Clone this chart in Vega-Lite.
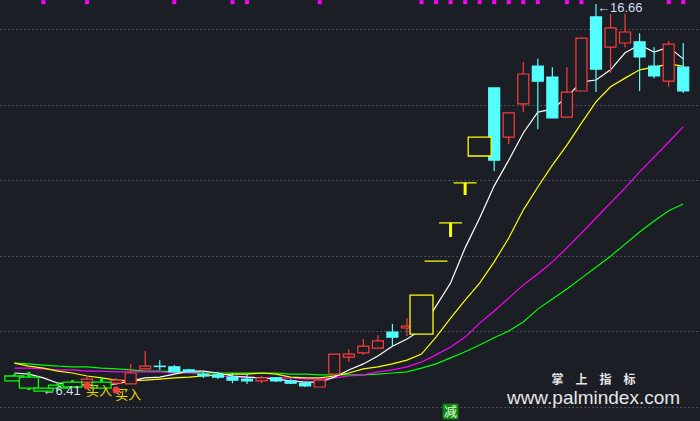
{
  "$schema": "https://vega.github.io/schema/vega-lite/v6.json",
  "width": 700,
  "height": 421,
  "autosize": {"type": "fit", "contains": "padding"},
  "padding": 0,
  "background": "#1b1e25",
  "config": {
    "view": {"stroke": null},
    "axisY": {"grid": true, "labels": false, "ticks": false, "domain": false, "title": null, "gridColor": "#59606c", "gridDash": [1.5, 2.5], "gridWidth": 1, "gridOpacity": 1}
  },
  "datasets": {
    "k": [
      {"i":0,"kind":"weak","o":6.82,"h":6.87,"l":6.69,"c":6.69,"ma5":6.90,"ma10":7.16,"ma20":7.03,"ma60":7.16},
      {"i":1,"kind":"weak","o":6.79,"h":6.93,"l":6.45,"c":6.50,"ma5":6.87,"ma10":7.08,"ma20":7.03,"ma60":7.14},
      {"i":2,"kind":"weak","o":6.50,"h":6.50,"l":6.41,"c":6.42,"ma5":6.77,"ma10":7.03,"ma20":7.01,"ma60":7.11},
      {"i":3,"kind":"weak","o":6.58,"h":6.63,"l":6.50,"c":6.50,"ma5":6.63,"ma10":6.95,"ma20":6.98,"ma60":7.08},
      {"i":4,"kind":"weak","o":6.66,"h":6.71,"l":6.53,"c":6.53,"ma5":6.61,"ma10":6.90,"ma20":6.98,"ma60":7.06},
      {"i":5,"kind":"up","o":6.66,"h":6.82,"l":6.66,"c":6.74,"ma5":6.58,"ma10":6.82,"ma20":6.95,"ma60":7.06},
      {"i":6,"kind":"weak","o":6.66,"h":6.77,"l":6.50,"c":6.50,"ma5":6.58,"ma10":6.77,"ma20":6.95,"ma60":7.03},
      {"i":7,"kind":"up","o":6.63,"h":6.77,"l":6.58,"c":6.71,"ma5":6.61,"ma10":6.71,"ma20":6.93,"ma60":7.01},
      {"i":8,"kind":"up","o":6.61,"h":7.14,"l":6.61,"c":6.90,"ma5":6.69,"ma10":6.69,"ma20":6.93,"ma60":6.98},
      {"i":9,"kind":"up","o":7.01,"h":7.48,"l":7.01,"c":7.08,"ma5":6.77,"ma10":6.71,"ma20":6.93,"ma60":6.95},
      {"i":10,"kind":"down","o":7.08,"h":7.24,"l":6.98,"c":7.07,"ma5":6.79,"ma10":6.74,"ma20":6.93,"ma60":6.95},
      {"i":11,"kind":"down","o":7.06,"h":7.11,"l":6.93,"c":6.93,"ma5":6.87,"ma10":6.77,"ma20":6.90,"ma60":6.93},
      {"i":12,"kind":"down","o":6.98,"h":7.01,"l":6.90,"c":6.93,"ma5":6.95,"ma10":6.79,"ma20":6.90,"ma60":6.93},
      {"i":13,"kind":"down","o":6.87,"h":6.93,"l":6.77,"c":6.82,"ma5":6.95,"ma10":6.82,"ma20":6.87,"ma60":6.90},
      {"i":14,"kind":"down","o":6.85,"h":6.93,"l":6.74,"c":6.79,"ma5":6.90,"ma10":6.85,"ma20":6.82,"ma60":6.90},
      {"i":15,"kind":"down","o":6.79,"h":6.90,"l":6.63,"c":6.71,"ma5":6.82,"ma10":6.87,"ma20":6.79,"ma60":6.90},
      {"i":16,"kind":"down","o":6.74,"h":6.87,"l":6.61,"c":6.69,"ma5":6.79,"ma10":6.87,"ma20":6.79,"ma60":6.90},
      {"i":17,"kind":"up","o":6.69,"h":6.82,"l":6.63,"c":6.77,"ma5":6.77,"ma10":6.90,"ma20":6.77,"ma60":6.90},
      {"i":18,"kind":"down","o":6.77,"h":6.79,"l":6.66,"c":6.69,"ma5":6.74,"ma10":6.87,"ma20":6.77,"ma60":6.90},
      {"i":19,"kind":"down","o":6.69,"h":6.74,"l":6.61,"c":6.63,"ma5":6.69,"ma10":6.79,"ma20":6.77,"ma60":6.87},
      {"i":20,"kind":"down","o":6.63,"h":6.66,"l":6.53,"c":6.56,"ma5":6.66,"ma10":6.77,"ma20":6.74,"ma60":6.87},
      {"i":21,"kind":"up","o":6.53,"h":6.71,"l":6.53,"c":6.71,"ma5":6.66,"ma10":6.77,"ma20":6.74,"ma60":6.85},
      {"i":22,"kind":"up","o":6.87,"h":7.40,"l":6.87,"c":7.40,"ma5":6.79,"ma10":6.82,"ma20":6.77,"ma60":6.85},
      {"i":23,"kind":"up","o":7.32,"h":7.53,"l":7.19,"c":7.40,"ma5":6.98,"ma10":6.90,"ma20":6.82,"ma60":6.85},
      {"i":24,"kind":"up","o":7.43,"h":7.80,"l":7.38,"c":7.61,"ma5":7.14,"ma10":7.01,"ma20":6.85,"ma60":6.85},
      {"i":25,"kind":"up","o":7.56,"h":7.90,"l":7.56,"c":7.75,"ma5":7.35,"ma10":7.06,"ma20":6.93,"ma60":6.87},
      {"i":26,"kind":"down","o":7.98,"h":8.20,"l":7.59,"c":7.85,"ma5":7.61,"ma10":7.14,"ma20":6.98,"ma60":6.90},
      {"i":27,"kind":"up","o":8.09,"h":8.35,"l":7.88,"c":8.14,"ma5":7.80,"ma10":7.24,"ma20":7.06,"ma60":6.93},
      {"i":28,"kind":"limit","o":7.93,"h":8.96,"l":7.93,"c":8.96,"ma5":8.04,"ma10":7.40,"ma20":7.19,"ma60":7.03},
      {"i":29,"kind":"limit","o":9.86,"h":9.86,"l":9.86,"c":9.86,"ma5":8.67,"ma10":7.85,"ma20":7.38,"ma60":7.14},
      {"i":30,"kind":"limit","o":10.87,"h":10.87,"l":10.50,"c":10.87,"ma5":9.28,"ma10":8.35,"ma20":7.59,"ma60":7.30},
      {"i":31,"kind":"limit","o":11.93,"h":11.93,"l":11.61,"c":11.93,"ma5":10.21,"ma10":8.83,"ma20":7.85,"ma60":7.46},
      {"i":32,"kind":"limit","o":12.64,"h":13.14,"l":12.64,"c":13.14,"ma5":11.00,"ma10":9.28,"ma20":8.22,"ma60":7.64},
      {"i":33,"kind":"down","o":14.44,"h":14.44,"l":12.24,"c":12.53,"ma5":11.85,"ma10":9.84,"ma20":8.54,"ma60":7.83},
      {"i":34,"kind":"up","o":13.14,"h":13.78,"l":12.96,"c":13.78,"ma5":12.53,"ma10":10.47,"ma20":8.88,"ma60":8.01},
      {"i":35,"kind":"up","o":14.02,"h":15.13,"l":13.80,"c":14.81,"ma5":13.25,"ma10":11.21,"ma20":9.23,"ma60":8.25},
      {"i":36,"kind":"down","o":15.02,"h":15.21,"l":13.35,"c":14.62,"ma5":13.80,"ma10":11.82,"ma20":9.52,"ma60":8.59},
      {"i":37,"kind":"down","o":14.73,"h":14.99,"l":13.65,"c":13.65,"ma5":13.88,"ma10":12.40,"ma20":9.84,"ma60":8.86},
      {"i":38,"kind":"up","o":13.67,"h":14.99,"l":13.67,"c":14.33,"ma5":14.20,"ma10":12.93,"ma20":10.21,"ma60":9.12},
      {"i":39,"kind":"up","o":14.36,"h":15.76,"l":14.36,"c":15.76,"ma5":14.60,"ma10":13.51,"ma20":10.60,"ma60":9.41},
      {"i":40,"kind":"down","o":16.32,"h":16.66,"l":14.33,"c":14.94,"ma5":14.65,"ma10":14.07,"ma20":11.00,"ma60":9.70},
      {"i":41,"kind":"up","o":15.52,"h":16.40,"l":14.84,"c":16.03,"ma5":14.92,"ma10":14.47,"ma20":11.40,"ma60":9.99},
      {"i":42,"kind":"up","o":15.63,"h":16.40,"l":15.52,"c":15.92,"ma5":15.37,"ma10":14.70,"ma20":11.79,"ma60":10.31},
      {"i":43,"kind":"down","o":15.66,"h":15.89,"l":14.36,"c":15.26,"ma5":15.58,"ma10":14.92,"ma20":12.22,"ma60":10.63},
      {"i":44,"kind":"down","o":15.02,"h":15.52,"l":14.70,"c":14.76,"ma5":15.39,"ma10":14.99,"ma20":12.61,"ma60":10.92},
      {"i":45,"kind":"up","o":14.62,"h":15.68,"l":14.47,"c":15.60,"ma5":15.52,"ma10":15.07,"ma20":13.01,"ma60":11.19},
      {"i":46,"kind":"down","o":14.99,"h":15.63,"l":14.31,"c":14.36,"ma5":15.21,"ma10":15.02,"ma20":13.41,"ma60":11.37}
    ],
    "top": [
      {"i":2,"p":16.71},{"i":5,"p":16.71},{"i":11,"p":16.71},{"i":15,"p":16.71},{"i":16,"p":16.71},
      {"i":21,"p":16.71},{"i":28,"p":16.71},{"i":29,"p":16.71},{"i":30,"p":16.71},{"i":31,"p":16.71},
      {"i":32,"p":16.71},{"i":33,"p":16.71},{"i":34,"p":16.71},{"i":35,"p":16.71},{"i":36,"p":16.71},
      {"i":38,"p":16.71},{"i":39,"p":16.71},{"i":45,"p":16.71},{"i":46,"p":16.71}
    ],
    "sig": [
      {"i":5,"p":6.56,"t":"买入"},
      {"i":7,"p":6.45,"t":"买入"}
    ],
    "jian": [{"i":30,"p":5.88,"t":"减"}],
    "lo": [{"i":2,"p":6.41,"t":"←6.41"}],
    "hi": [{"i":40,"p":16.66,"t":"←16.66"}],
    "wm1": [{"i":39.83,"p":6.72,"t":"掌　上　指　标"}],
    "wm2": [{"i":39.83,"p":6.08,"t":"www.palmindex.com"}]
  },
  "layer": [
    {
      "data": {"name": "k"},
      "mark": {"type": "line", "stroke": "#00ff00", "strokeWidth": 1.2},
      "encoding": {
        "x": {"field": "i", "type": "quantitative", "scale": {"domain": [-0.644, 46.81], "nice": false, "zero": false}, "axis": null},
        "y": {"field": "ma60", "type": "quantitative", "scale": {"domain": [5.63, 16.767], "nice": false, "zero": false}, "axis": {"values": [6, 8, 10, 12, 14, 16]}}
      }
    },
    {
      "data": {"name": "k"},
      "mark": {"type": "line", "stroke": "#ff00ff", "strokeWidth": 1.2},
      "encoding": {
        "x": {"field": "i", "type": "quantitative", "scale": {"domain": [-0.644, 46.81], "nice": false, "zero": false}, "axis": null},
        "y": {"field": "ma20", "type": "quantitative", "scale": {"domain": [5.63, 16.767], "nice": false, "zero": false}, "axis": {"values": [6, 8, 10, 12, 14, 16]}}
      }
    },
    {
      "data": {"name": "k"},
      "mark": {"type": "line", "stroke": "#ffff00", "strokeWidth": 1.2},
      "encoding": {
        "x": {"field": "i", "type": "quantitative", "scale": {"domain": [-0.644, 46.81], "nice": false, "zero": false}, "axis": null},
        "y": {"field": "ma10", "type": "quantitative", "scale": {"domain": [5.63, 16.767], "nice": false, "zero": false}, "axis": {"values": [6, 8, 10, 12, 14, 16]}}
      }
    },
    {
      "data": {"name": "k"},
      "mark": {"type": "line", "stroke": "#ffffff", "strokeWidth": 1.2},
      "encoding": {
        "x": {"field": "i", "type": "quantitative", "scale": {"domain": [-0.644, 46.81], "nice": false, "zero": false}, "axis": null},
        "y": {"field": "ma5", "type": "quantitative", "scale": {"domain": [5.63, 16.767], "nice": false, "zero": false}, "axis": {"values": [6, 8, 10, 12, 14, 16]}}
      }
    },
    {
      "data": {"name": "k"},
      "transform": [{"filter": {"field": "kind", "oneOf": ["up", "down"]}}],
      "mark": {"type": "rule", "strokeWidth": 1.2},
      "encoding": {
        "x": {"field": "i", "type": "quantitative", "scale": {"domain": [-0.644, 46.81], "nice": false, "zero": false}, "axis": null},
        "y": {"field": "l", "type": "quantitative", "scale": {"domain": [5.63, 16.767], "nice": false, "zero": false}, "axis": {"values": [6, 8, 10, 12, 14, 16]}},
        "y2": {"field": "h"},
        "stroke": {"field": "kind", "type": "nominal", "scale": {"domain": ["up", "down", "limit", "weak"], "range": ["#ff3b3b", "#54ffff", "#ffff00", "#00ff00"]}, "legend": null}
      }
    },
    {
      "data": {"name": "k"},
      "transform": [{"filter": {"field": "kind", "oneOf": ["up", "down"]}}],
      "mark": {"type": "bar", "orient": "vertical", "width": 11, "strokeWidth": 1.2},
      "encoding": {
        "x": {"field": "i", "type": "quantitative", "scale": {"domain": [-0.644, 46.81], "nice": false, "zero": false}, "axis": null},
        "y": {"field": "o", "type": "quantitative", "scale": {"domain": [5.63, 16.767], "nice": false, "zero": false}, "axis": {"values": [6, 8, 10, 12, 14, 16]}},
        "y2": {"field": "c"},
        "stroke": {"field": "kind", "type": "nominal", "scale": {"domain": ["up", "down", "limit", "weak"], "range": ["#ff3b3b", "#54ffff", "#ffff00", "#00ff00"]}, "legend": null},
        "fill": {"field": "kind", "type": "nominal", "scale": {"domain": ["up", "down", "limit", "weak"], "range": ["#1b1e25", "#54ffff", "#1b1e25", "#1b1e25"]}, "legend": null}
      }
    },
    {
      "data": {"name": "k"},
      "transform": [{"filter": {"field": "kind", "oneOf": ["limit", "weak"]}}],
      "mark": {"type": "rule", "strokeWidth": 3},
      "encoding": {
        "x": {"field": "i", "type": "quantitative", "scale": {"domain": [-0.644, 46.81], "nice": false, "zero": false}, "axis": null},
        "y": {"field": "l", "type": "quantitative", "scale": {"domain": [5.63, 16.767], "nice": false, "zero": false}, "axis": {"values": [6, 8, 10, 12, 14, 16]}},
        "y2": {"field": "h"},
        "stroke": {"field": "kind", "type": "nominal", "scale": {"domain": ["up", "down", "limit", "weak"], "range": ["#ff3b3b", "#54ffff", "#ffff00", "#00ff00"]}, "legend": null}
      }
    },
    {
      "data": {"name": "k"},
      "transform": [{"filter": {"field": "kind", "equal": "limit"}}],
      "mark": {"type": "bar", "orient": "vertical", "width": 23, "strokeWidth": 1.3, "fill": "#1b1e25", "stroke": "#ffff00"},
      "encoding": {
        "x": {"field": "i", "type": "quantitative", "scale": {"domain": [-0.644, 46.81], "nice": false, "zero": false}, "axis": null},
        "y": {"field": "o", "type": "quantitative", "scale": {"domain": [5.63, 16.767], "nice": false, "zero": false}, "axis": {"values": [6, 8, 10, 12, 14, 16]}},
        "y2": {"field": "c"}
      }
    },
    {
      "data": {"name": "k"},
      "transform": [{"filter": {"field": "kind", "equal": "weak"}}],
      "mark": {"type": "bar", "orient": "vertical", "width": 19, "strokeWidth": 1.3, "fill": "#1b1e25", "stroke": "#00ff00"},
      "encoding": {
        "x": {"field": "i", "type": "quantitative", "scale": {"domain": [-0.644, 46.81], "nice": false, "zero": false}, "axis": null},
        "y": {"field": "o", "type": "quantitative", "scale": {"domain": [5.63, 16.767], "nice": false, "zero": false}, "axis": {"values": [6, 8, 10, 12, 14, 16]}},
        "y2": {"field": "c"}
      }
    },
    {
      "data": {"name": "top"},
      "mark": {"type": "square", "size": 16, "fill": "#ff00ff", "opacity": 1},
      "encoding": {
        "x": {"field": "i", "type": "quantitative", "scale": {"domain": [-0.644, 46.81], "nice": false, "zero": false}, "axis": null},
        "y": {"field": "p", "type": "quantitative", "scale": {"domain": [5.63, 16.767], "nice": false, "zero": false}, "axis": {"values": [6, 8, 10, 12, 14, 16]}}
      }
    },
    {
      "data": {"name": "sig"},
      "mark": {"type": "text", "font": "Noto Sans CJK SC", "fontSize": 13, "fill": "#e8d800", "align": "center", "baseline": "middle", "dx": 12, "dy": 5},
      "encoding": {
        "x": {"field": "i", "type": "quantitative", "scale": {"domain": [-0.644, 46.81], "nice": false, "zero": false}, "axis": null},
        "y": {"field": "p", "type": "quantitative", "scale": {"domain": [5.63, 16.767], "nice": false, "zero": false}, "axis": {"values": [6, 8, 10, 12, 14, 16]}},
        "text": {"field": "t"}
      }
    },
    {
      "data": {"name": "sig"},
      "mark": {"type": "circle", "size": 50, "fill": "#ff3b3b", "opacity": 1, "dx": 4},
      "encoding": {
        "x": {"field": "i", "type": "quantitative", "scale": {"domain": [-0.644, 46.81], "nice": false, "zero": false}, "axis": null},
        "y": {"field": "p", "type": "quantitative", "scale": {"domain": [5.63, 16.767], "nice": false, "zero": false}, "axis": {"values": [6, 8, 10, 12, 14, 16]}}
      }
    },
    {
      "data": {"name": "jian"},
      "mark": {"type": "square", "size": 250, "fill": "#0e8a0e", "opacity": 1},
      "encoding": {
        "x": {"field": "i", "type": "quantitative", "scale": {"domain": [-0.644, 46.81], "nice": false, "zero": false}, "axis": null},
        "y": {"field": "p", "type": "quantitative", "scale": {"domain": [5.63, 16.767], "nice": false, "zero": false}, "axis": {"values": [6, 8, 10, 12, 14, 16]}}
      }
    },
    {
      "data": {"name": "jian"},
      "mark": {"type": "text", "font": "Noto Sans CJK SC", "fontSize": 13, "fill": "#e8ffe8", "align": "center", "baseline": "middle"},
      "encoding": {
        "x": {"field": "i", "type": "quantitative", "scale": {"domain": [-0.644, 46.81], "nice": false, "zero": false}, "axis": null},
        "y": {"field": "p", "type": "quantitative", "scale": {"domain": [5.63, 16.767], "nice": false, "zero": false}, "axis": {"values": [6, 8, 10, 12, 14, 16]}},
        "text": {"field": "t"}
      }
    },
    {
      "data": {"name": "lo"},
      "mark": {"type": "text", "font": "Liberation Sans", "fontSize": 13, "fill": "#d4def0", "align": "left", "baseline": "middle", "dx": -1, "dy": -1},
      "encoding": {
        "x": {"field": "i", "type": "quantitative", "scale": {"domain": [-0.644, 46.81], "nice": false, "zero": false}, "axis": null},
        "y": {"field": "p", "type": "quantitative", "scale": {"domain": [5.63, 16.767], "nice": false, "zero": false}, "axis": {"values": [6, 8, 10, 12, 14, 16]}},
        "text": {"field": "t"}
      }
    },
    {
      "data": {"name": "hi"},
      "mark": {"type": "text", "font": "Liberation Sans", "fontSize": 13, "fill": "#d4def0", "align": "left", "baseline": "middle", "dx": 1, "dy": 4},
      "encoding": {
        "x": {"field": "i", "type": "quantitative", "scale": {"domain": [-0.644, 46.81], "nice": false, "zero": false}, "axis": null},
        "y": {"field": "p", "type": "quantitative", "scale": {"domain": [5.63, 16.767], "nice": false, "zero": false}, "axis": {"values": [6, 8, 10, 12, 14, 16]}},
        "text": {"field": "t"}
      }
    },
    {
      "data": {"name": "wm1"},
      "mark": {"type": "text", "font": "Noto Sans CJK SC", "fontSize": 12, "fontWeight": "bold", "fill": "#e6e6e6", "align": "center", "baseline": "middle"},
      "encoding": {
        "x": {"field": "i", "type": "quantitative", "scale": {"domain": [-0.644, 46.81], "nice": false, "zero": false}, "axis": null},
        "y": {"field": "p", "type": "quantitative", "scale": {"domain": [5.63, 16.767], "nice": false, "zero": false}, "axis": {"values": [6, 8, 10, 12, 14, 16]}},
        "text": {"field": "t"}
      }
    },
    {
      "data": {"name": "wm2"},
      "mark": {"type": "text", "font": "Liberation Sans", "fontSize": 19, "fill": "#e6e6e6", "align": "center", "baseline": "alphabetic"},
      "encoding": {
        "x": {"field": "i", "type": "quantitative", "scale": {"domain": [-0.644, 46.81], "nice": false, "zero": false}, "axis": null},
        "y": {"field": "p", "type": "quantitative", "scale": {"domain": [5.63, 16.767], "nice": false, "zero": false}, "axis": {"values": [6, 8, 10, 12, 14, 16]}},
        "text": {"field": "t"}
      }
    }
  ]
}
